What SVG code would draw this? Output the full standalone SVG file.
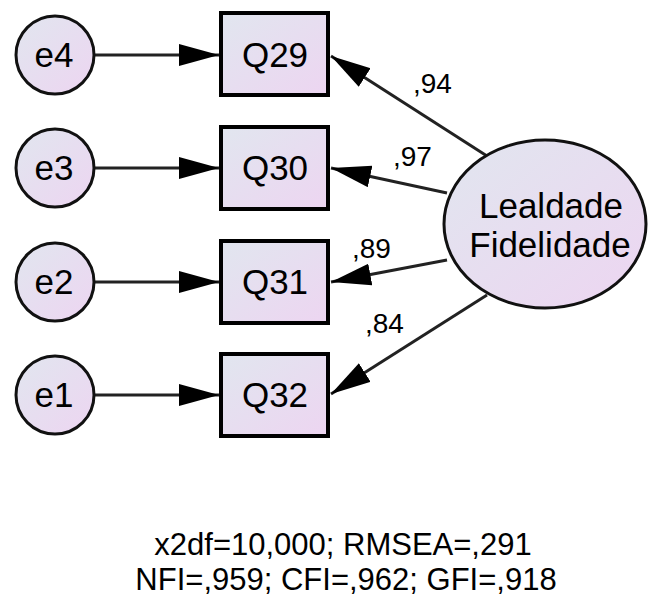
<svg xmlns="http://www.w3.org/2000/svg" width="649" height="597" viewBox="0 0 649 597">
<defs>
<linearGradient id="fill" x1="0" y1="0" x2="1" y2="1">
<stop offset="0" stop-color="#e1e6ef"/>
<stop offset="1" stop-color="#edd5f1"/>
</linearGradient>
<marker id="arr" markerUnits="userSpaceOnUse" markerWidth="42" markerHeight="24" refX="40" refY="11" orient="auto">
<path d="M0,0 L40,11 L0,22 z" fill="#000"/>
</marker>
<style>
text{font-family:"Liberation Sans",Arial,sans-serif;fill:#000;}
.lbl{font-size:35px;text-anchor:middle;}
.coef{font-size:28px;}
.fit{font-size:31px;text-anchor:middle;}
.box{fill:url(#fill);stroke:#000;stroke-width:4;}
.err{fill:url(#fill);stroke:#111;stroke-width:3;}
.lat{fill:url(#fill);stroke:#111;stroke-width:3;}
.con line{stroke:#222;stroke-width:3;marker-end:url(#arr);}
</style>
</defs>
<g id="connectors" class="con">
<line x1="95" y1="55" x2="219" y2="55"/>
<line x1="95" y1="168" x2="219" y2="168"/>
<line x1="95" y1="282" x2="219" y2="282"/>
<line x1="95" y1="395" x2="219" y2="395"/>
<line x1="487" y1="156" x2="331" y2="56"/>
<line x1="447" y1="193" x2="331" y2="168"/>
<line x1="447" y1="260" x2="331" y2="282"/>
<line x1="487" y1="295" x2="331" y2="394"/>
</g>
<g id="e4"><circle class="err" cx="55" cy="55" r="39"/><text class="lbl" x="54" y="67">e4</text></g>
<g id="e3"><circle class="err" cx="55" cy="168" r="39"/><text class="lbl" x="54" y="180">e3</text></g>
<g id="e2"><circle class="err" cx="55" cy="282" r="39"/><text class="lbl" x="54" y="294">e2</text></g>
<g id="e1"><circle class="err" cx="55" cy="395" r="39"/><text class="lbl" x="54" y="407">e1</text></g>
<g id="Q29"><rect class="box" x="221" y="13" width="107" height="82"/><text class="lbl" x="275" y="67">Q29</text></g>
<g id="Q30"><rect class="box" x="221" y="127" width="107" height="82"/><text class="lbl" x="275" y="180">Q30</text></g>
<g id="Q31"><rect class="box" x="221" y="241" width="107" height="82"/><text class="lbl" x="275" y="294">Q31</text></g>
<g id="Q32"><rect class="box" x="221" y="354" width="107" height="82"/><text class="lbl" x="275" y="407">Q32</text></g>
<g id="Lealdade"><ellipse class="lat" cx="545" cy="224" rx="101" ry="84"/><text class="lbl" x="551" y="218">Lealdade</text><text class="lbl" x="550" y="257">Fidelidade</text></g>
<g id="coefs">
<text class="coef" x="413" y="93">,94</text>
<text class="coef" x="393" y="166">,97</text>
<text class="coef" x="352" y="258">,89</text>
<text class="coef" x="365" y="333">,84</text>
</g>
<g id="fit">
<text class="fit" x="343" y="555">x2df=10,000; RMSEA=,291</text>
<text class="fit" x="346" y="590">NFI=,959; CFI=,962; GFI=,918</text>
</g>
</svg>
